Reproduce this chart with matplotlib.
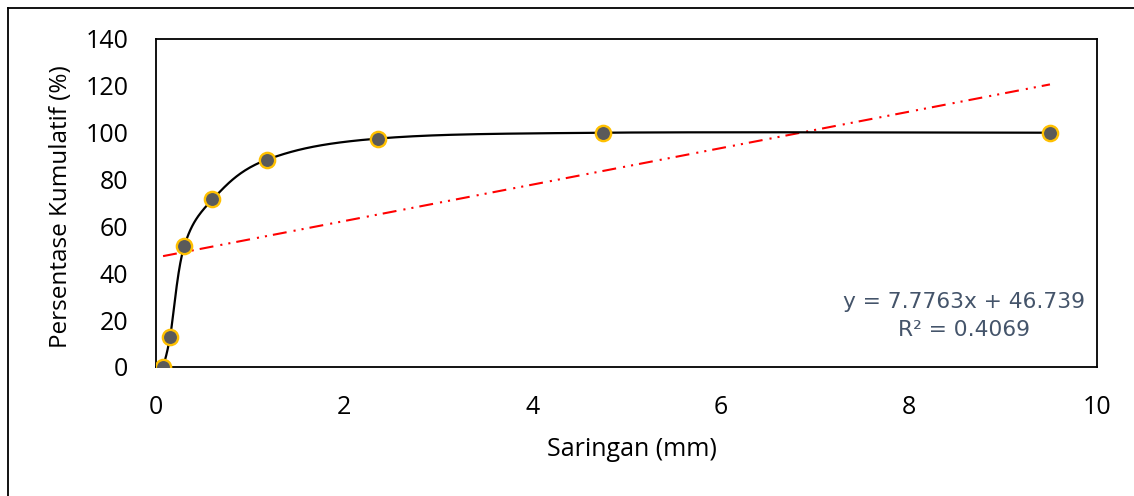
import numpy as np
import matplotlib
matplotlib.use("Agg")
import matplotlib.pyplot as plt
from matplotlib.lines import Line2D

plt.rcParams['font.family'] = ['Open Sans', 'DejaVu Sans']

# Data
saringan = [0.075, 0.15, 0.3, 0.6, 1.18, 2.36, 4.75, 9.5]
persen_kumulatif = [0, 13, 51.5, 71.5, 88.5, 97.5, 100, 100]
trend_slope = 7.7763
trend_intercept = 46.739
trend_r2 = 0.4069
x_ticks = [0, 2, 4, 6, 8, 10]
y_ticks = [0, 20, 40, 60, 80, 100, 120, 140]


def excel_smooth(xs, ys, n=40):
    xs = np.asarray(xs, float)
    ys = np.asarray(ys, float)
    P = np.column_stack([xs, ys])
    out = []
    for i in range(len(P) - 1):
        p0 = P[i - 1] if i > 0 else P[i]
        p1 = P[i]
        p2 = P[i + 1]
        p3 = P[i + 2] if i + 2 < len(P) else P[i + 1]
        c1 = p1 + (p2 - p0) / 6.0
        c2 = p2 - (p3 - p1) / 6.0
        t = np.linspace(0, 1, n)[:, None]
        seg = ((1 - t) ** 3) * p1 + 3 * ((1 - t) ** 2) * t * c1 + 3 * (1 - t) * t ** 2 * c2 + t ** 3 * p2
        out.append(seg if i == 0 else seg[1:])
    s = np.vstack(out)
    return s[:, 0], s[:, 1]


fig = plt.figure(figsize=(11.34, 4.96), dpi=100)
ax = fig.add_axes([156 / 1134, 129 / 496, 941 / 1134, 328 / 496])

sx, sy = excel_smooth(saringan, persen_kumulatif)
ax.plot(sx, sy, color='black', lw=1.6, zorder=2)
ax.plot(saringan, persen_kumulatif, linestyle='none', marker='o', markersize=11,
        markerfacecolor='#5a5a5a', markeredgecolor='#FFC000', markeredgewidth=1.7, zorder=3)

tx = np.array([min(saringan), max(saringan)])
ax.plot(tx, trend_slope * tx + trend_intercept, color='#FF0000', lw=1.5,
        linestyle=(0, (6.7, 3.4, 1.0, 2.9, 1.0, 2.9)), zorder=1.5)

ax.text((964 - 156) / 941, (367 - 316) / 328,
        f"y = {trend_slope}x + {trend_intercept}\nR² = {trend_r2}",
        transform=ax.transAxes, ha='center', va='center', fontsize=15.7,
        family='DejaVu Sans', color='#44546A', linespacing=1.45)

ax.set_xlim(0, 10)
ax.set_ylim(0, 140)
ax.set_xticks(x_ticks)
ax.set_yticks(y_ticks)
ax.tick_params(axis='both', length=0, labelsize=18, colors='black')
ax.tick_params(axis='y', pad=20)
ax.tick_params(axis='x', pad=20)
for s in ax.spines.values():
    s.set_linewidth(1.3)
    s.set_color('black')

ax.set_xlabel('Saringan (mm)', fontsize=18)
ax.set_ylabel('Persentase Kumulatif (%)', fontsize=17.5)
ax.xaxis.label.set_verticalalignment('center')
ax.yaxis.label.set_verticalalignment('center')
ax.xaxis.set_label_coords((632 - 156) / 941, (367 - 449) / 328)
ax.yaxis.set_label_coords((61 - 156) / 941, (367 - 207) / 328)

# outer chart border (left and top only visible)
fig.add_artist(Line2D([7.5 / 1134, 7.5 / 1134], [0, 1 - 8 / 496], transform=fig.transFigure, color='black', lw=1.3))
fig.add_artist(Line2D([7.5 / 1134, 1], [1 - 8 / 496, 1 - 8 / 496], transform=fig.transFigure, color='black', lw=1.3))

fig.savefig('out.png', dpi=100)
